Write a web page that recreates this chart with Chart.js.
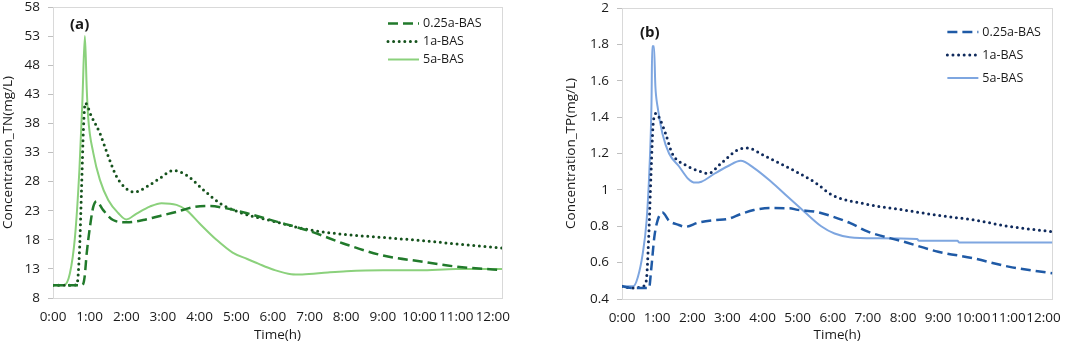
<!DOCTYPE html>
<html>
<head>
<meta charset="utf-8">
<script src="https://cdn.jsdelivr.net/npm/chart.js@4.4.1/dist/chart.umd.min.js"></script>
<style>
  html, body { margin: 0; padding: 0; background: #fff; }
  #wrapA { position: absolute; left: 0; top: 0; width: 540px; height: 345px; }
  #wrapB { position: absolute; left: 540px; top: 0; width: 532px; height: 345px; }
</style>
</head>
<body>
<div id="wrapA"><canvas id="tnChart" width="540" height="345"></canvas></div>
<div id="wrapB"><canvas id="tpChart" width="532" height="345"></canvas></div>
<script>
const seriesNames = ['0.25a-BAS', '1a-BAS', '5a-BAS'];
const hourTicks = [0, 1, 2, 3, 4, 5, 6, 7, 8, 9, 10, 11, 12];
const tnTicks = [8, 13, 18, 23, 28, 33, 38, 43, 48, 53, 58];
const tpTicks = [0.4, 0.6, 0.8, 1, 1.2, 1.4, 1.6, 1.8, 2];

// (a) TN, mg/L
const tnHours025 = [0, 0.8, 0.86, 0.92, 1.01, 1.1, 1.19, 1.37, 1.64, 2.0, 2.46, 2.92, 3.37, 3.82, 4.28, 4.73, 5.27, 6.0, 7.0, 8.0, 9.0, 10.0, 11.0, 12.0, 12.25];
const tnValues025 = [10.2, 10.2, 11.5, 15.7, 20.3, 23.7, 24.6, 23.1, 21.4, 21.0, 21.4, 22.1, 22.8, 23.6, 23.8, 23.4, 22.6, 21.3, 19.5, 17.2, 15.3, 14.3, 13.4, 12.9, 12.8];

const tnHours1 = [0, 0.5, 0.65, 0.72, 0.78, 0.83, 0.88, 1.05, 1.28, 1.51, 1.74, 2.0, 2.23, 2.55, 2.92, 3.28, 3.64, 4.1, 4.55, 5.1, 6.0, 7.0, 8.0, 9.0, 10.0, 11.0, 12.25];
const tnValues1 = [10.2, 10.2, 10.3, 15.7, 27, 37, 41.5, 39.2, 36.3, 32.3, 28.8, 26.8, 26.2, 27.1, 28.6, 29.9, 29.1, 26.6, 24.3, 22.7, 21.2, 19.7, 18.9, 18.4, 17.9, 17.3, 16.6];

const tnHours5 = [0, 0.3, 0.46, 0.6, 0.72, 0.8, 0.87, 0.92, 0.96, 1.1, 1.28, 1.51, 1.78, 2.0, 2.28, 2.64, 2.96, 3.37, 3.64, 4.0, 4.46, 4.9, 5.3, 5.6, 6.0, 6.5, 6.8, 7.5, 8.0, 9.0, 10.0, 11.0, 12.25];
const tnValues5 = [10.2, 10.2, 12.2, 18.5, 30, 41.5, 53, 44, 39, 32.9, 28.3, 24.8, 22.6, 21.5, 22.5, 23.7, 24.3, 24.0, 23.1, 20.8, 18, 15.8, 14.7, 13.9, 12.9, 12.1, 12.05, 12.4, 12.6, 12.75, 12.75, 13.0, 13.0];

// (b) TP, mg/L
const tpHours025 = [0, 0.3, 0.77, 0.83, 0.92, 1.01, 1.15, 1.34, 1.62, 1.8, 2.17, 2.64, 3.01, 3.38, 3.75, 4.21, 4.77, 5.0, 5.5, 6.0, 6.5, 7.0, 8.0, 9.0, 10.0, 11.0, 12.25];
const tpValues025 = [0.47, 0.46, 0.46, 0.56, 0.74, 0.83, 0.875, 0.83, 0.807, 0.797, 0.82, 0.834, 0.84, 0.867, 0.889, 0.9, 0.899, 0.89, 0.88, 0.853, 0.817, 0.77, 0.716, 0.66, 0.624, 0.578, 0.541];

const tpHours1 = [0, 0.3, 0.6, 0.69, 0.76, 0.83, 0.89, 0.97, 1.1, 1.24, 1.43, 1.8, 2.17, 2.45, 2.82, 3.29, 3.57, 4.03, 4.49, 4.96, 5.5, 6.0, 7.0, 8.0, 9.0, 10.0, 11.0, 12.25];
const tpValues1 = [0.47, 0.46, 0.47, 0.5, 0.74, 1.11, 1.37, 1.42, 1.38, 1.31, 1.2, 1.137, 1.105, 1.09, 1.146, 1.22, 1.23, 1.19, 1.146, 1.1, 1.04, 0.97, 0.92, 0.89, 0.86, 0.835, 0.8, 0.77];

const tpHours5 = [0, 0.32, 0.45, 0.59, 0.7, 0.78, 0.84, 0.86, 0.91, 0.95, 1.01, 1.15, 1.34, 1.62, 1.89, 2.08, 2.26, 2.64, 3.01, 3.38, 3.76, 4.24, 4.71, 5.19, 5.67, 6.05, 6.48, 7.2, 8.4, 8.45, 9.55, 9.6, 12.25];
const tpValues5 = [0.47, 0.47, 0.52, 0.65, 0.83, 1.11, 1.48, 1.79, 1.79, 1.57, 1.46, 1.31, 1.2, 1.13, 1.06, 1.04, 1.045, 1.09, 1.13, 1.16, 1.12, 1.046, 0.963, 0.88, 0.8, 0.76, 0.74, 0.734, 0.73, 0.72, 0.72, 0.71, 0.71];

Chart.defaults.font.family = '"Open Sans", "Liberation Sans", sans-serif';
Chart.defaults.font.size = 13.5;
Chart.defaults.color = '#1a1a1a';

function pairs(xs, ys) {
    return xs.map((x, i) => ({ x: x, y: ys[i] }));
}

// frame, panel letter and an in-plot legend stacked vertically
const panelPlugin = {
    id: 'panel',
    beforeDatasetsDraw(chart) {
        const { ctx, chartArea: a } = chart;
        ctx.save();
        ctx.strokeStyle = '#d9d9d9';
        ctx.lineWidth = 1;
        ctx.strokeRect(Math.round(a.left) + 0.5, Math.round(a.top) + 0.5, Math.round(a.width), Math.round(a.height));
        ctx.restore();
    },
    afterDraw(chart, args, opts) {
        const { ctx, chartArea: a } = chart;
        ctx.save();
        ctx.fillStyle = '#1a1a1a';
        ctx.font = 'bold 15px "Open Sans", sans-serif';
        ctx.textBaseline = 'middle';
        ctx.fillText(opts.label, a.left + opts.labelX, a.top + opts.labelY);

        ctx.font = '12.5px "Open Sans", sans-serif';
        chart.data.datasets.forEach((ds, i) => {
            const y = a.top + opts.legendY + i * opts.legendGap;
            const x1 = a.right + opts.legendX;
            ctx.strokeStyle = ds.borderColor;
            ctx.lineWidth = ds.borderWidth;
            ctx.lineCap = ds.borderCapStyle || 'butt';
            ctx.setLineDash(ds.borderDash || []);
            ctx.beginPath();
            ctx.moveTo(x1, y);
            ctx.lineTo(x1 + 31, y);
            ctx.stroke();
            ctx.setLineDash([]);
            ctx.fillStyle = '#1a1a1a';
            ctx.fillText(ds.label, x1 + 35, y);
        });
        ctx.restore();
    }
};

function makeChart(id, sets, yTicks, yTitle, axisW, axisH, titlePad, pad, panel) {
    const styles = [
        { borderDash: [10, 5], borderCapStyle: 'butt', borderWidth: 2.5 },
        { borderDash: [0, 5.6], borderCapStyle: 'round', borderWidth: 3 },
        { borderDash: [], borderCapStyle: 'butt', borderWidth: 2 }
    ];
    return new Chart(document.getElementById(id), {
        type: 'line',
        data: {
            datasets: sets.map((s, i) => Object.assign({
                label: seriesNames[i],
                data: s.data,
                borderColor: s.color,
                pointRadius: 0,
                fill: false,
                cubicInterpolationMode: 'monotone'
            }, styles[i]))
        },
        options: {
            responsive: false,
            animation: false,
            layout: { padding: pad },
            plugins: { legend: { display: false }, tooltip: { enabled: false }, panel: panel },
            scales: {
                x: {
                    type: 'linear',
                    min: 0,
                    max: 12.25,
                    afterBuildTicks: (scale) => { scale.ticks = hourTicks.map(v => ({ value: v })); },
                    afterFit: (scale) => { scale.height = axisH; },
                    ticks: { autoSkip: false, maxRotation: 0, padding: 11, callback: (v) => v + ':00' },
                    grid: { display: false, drawTicks: false },
                    border: { color: '#bfbfbf' },
                    title: { display: true, text: 'Time(h)', padding: { top: 0, bottom: 2 } }
                },
                y: {
                    min: yTicks[0],
                    max: yTicks[yTicks.length - 1],
                    afterBuildTicks: (scale) => { scale.ticks = yTicks.map(v => ({ value: v })); },
                    afterFit: (scale) => {
                        scale.width = axisW;
                        scale.paddingTop = 0;
                        scale.paddingBottom = 0;
                    },
                    ticks: { padding: 8, callback: (v) => String(+v.toFixed(1)) },
                    grid: { drawOnChartArea: false, tickLength: 5, color: '#bfbfbf' },
                    border: { color: '#bfbfbf' },
                    title: { display: true, text: yTitle, font: { size: 13.5 }, padding: { top: titlePad, bottom: 0 } }
                }
            }
        },
        plugins: [panelPlugin]
    });
}

const tnChart = makeChart('tnChart', [
    { data: pairs(tnHours025, tnValues025), color: '#217a2b' },
    { data: pairs(tnHours1, tnValues1), color: '#15521c' },
    { data: pairs(tnHours5, tnValues5), color: '#8bd17c' }
], tnTicks, 'Concentration_TN(mg/L)', 53, 47, 0,
   { top: 7, right: 38, left: 0, bottom: 0 },
   { label: '(a)', labelX: 17, labelY: 18, legendX: -114, legendY: 16.5, legendGap: 18 });

const tpChart = makeChart('tpChart', [
    { data: pairs(tpHours025, tpValues025), color: '#1f5aa6' },
    { data: pairs(tpHours1, tpValues1), color: '#0f2a5c' },
    { data: pairs(tpHours5, tpValues5), color: '#7ea6e0' }
], tpTicks, 'Concentration_TP(mg/L)', 82, 46, 23,
   { top: 8, right: 10, left: 0, bottom: 0 },
   { label: '(b)', labelX: 18, labelY: 25, legendX: -105, legendY: 24, legendGap: 23 });
</script>
</body>
</html>
